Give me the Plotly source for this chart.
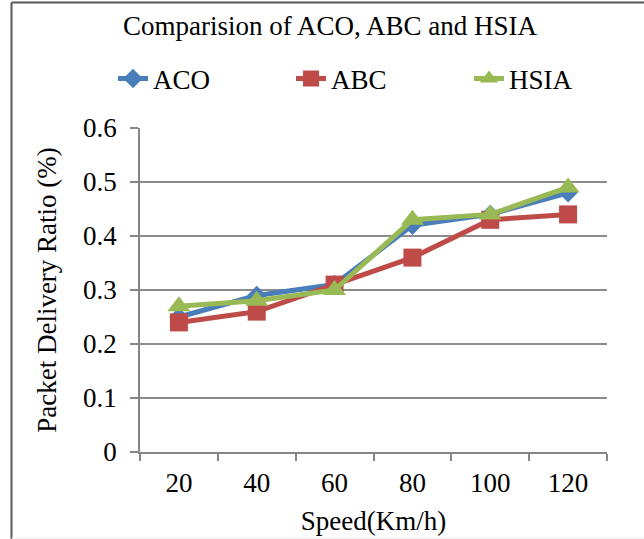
import plotly.graph_objects as go

speeds = ["20", "40", "60", "80", "100", "120"]
aco = [0.25, 0.29, 0.31, 0.42, 0.44, 0.48]
abc = [0.24, 0.26, 0.31, 0.36, 0.43, 0.44]
hsia = [0.27, 0.28, 0.30, 0.43, 0.44, 0.49]
y_ticks = [0, 0.1, 0.2, 0.3, 0.4, 0.5, 0.6]

FONT = "Liberation Serif"
FS = 27
W, H = 644, 539
L, R, T, B = 140, 37, 128, 87
PW, PH = W - L - R, H - T - B


def px(p):
    return (p - L) / PW


def py(q):
    return (H - B - q) / PH


fig = go.Figure()
fig.add_trace(go.Scatter(x=speeds, y=aco, name="ACO", mode="lines+markers",
                         line=dict(color="#4A7EBB", width=5),
                         marker=dict(symbol="diamond", size=15, color="#4A7EBB")))
fig.add_trace(go.Scatter(x=speeds, y=abc, name="ABC", mode="lines+markers",
                         line=dict(color="#BE4B48", width=5),
                         marker=dict(symbol="square", size=18, color="#BE4B48")))
fig.add_trace(go.Scatter(x=speeds, y=hsia, name="HSIA", mode="lines+markers",
                         line=dict(color="#98B954", width=5),
                         marker=dict(symbol="triangle-up", size=20, color="#98B954")))

fig.update_layout(
    width=W, height=H,
    margin=dict(l=L, r=R, t=T, b=B, autoexpand=False),
    paper_bgcolor="white", plot_bgcolor="white",
    font=dict(family=FONT, size=FS, color="black"),
    title=dict(text="Comparision of ACO, ABC and HSIA", x=330 / W, xanchor="center",
               y=1 - 26 / H, yanchor="middle", font=dict(size=FS, family=FONT)),
    legend=dict(orientation="h", x=px(113), xanchor="left", y=py(79), yanchor="middle",
                entrywidth=133, entrywidthmode="pixels",
                font=dict(size=FS, family=FONT), bgcolor="rgba(0,0,0,0)"),
    showlegend=True,
    xaxis=dict(type="category", tickson="boundaries", ticks="outside", ticklen=7,
               tickcolor="#868686", tickwidth=1.5, showline=True, linecolor="#868686",
               linewidth=1.5, showgrid=False, range=[-0.5, 5.5], automargin=False,
               ticklabelstandoff=6,
               title=dict(text="Speed(Km/h)", standoff=14, font=dict(size=FS)),
               tickfont=dict(size=FS)),
    yaxis=dict(range=[0, 0.6], tickvals=y_ticks, ticktext=[f"{v:g}" for v in y_ticks],
               ticks="outside", ticklen=8, tickcolor="#868686", tickwidth=1.5,
               showline=True, linecolor="#868686", linewidth=1.5, automargin=False,
               showgrid=True, gridcolor="#8C8C8C", gridwidth=1.5, zeroline=False,
               ticklabelstandoff=8,
               title=dict(text="Packet Delivery Ratio (%)", standoff=19, font=dict(size=FS)),
               tickfont=dict(size=FS)),
)

fig.add_shape(type="line", xref="paper", yref="paper", x0=px(11.5), x1=px(11.5),
              y0=py(2.5), y1=py(H + 5), line=dict(color="#595959", width=2))
fig.add_shape(type="line", xref="paper", yref="paper", x0=px(11.5), x1=px(W + 5),
              y0=py(2.5), y1=py(2.5), line=dict(color="#595959", width=2))
fig.add_shape(type="line", xref="paper", yref="paper", x0=px(11.5), x1=px(W + 5),
              y0=py(538), y1=py(538), line=dict(color="#EEEEEE", width=1))

fig.write_html("out.html")
